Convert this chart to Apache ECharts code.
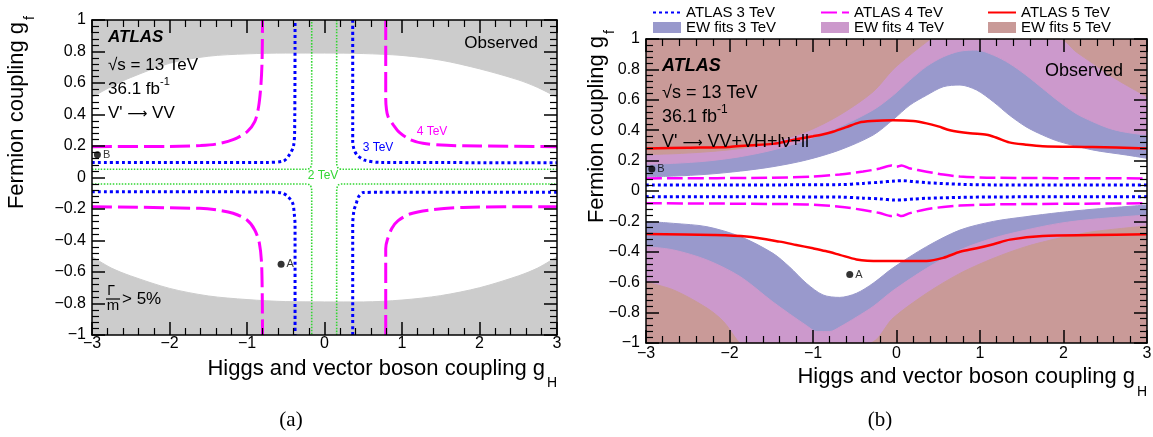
<!DOCTYPE html>
<html>
<head>
<meta charset="utf-8">
<title>HVT coupling limits</title>
<script src="https://cdn.jsdelivr.net/npm/echarts/dist/echarts.min.js"></script>
<style>
  html, body { margin: 0; padding: 0; background: #fff; }
  #chart { width: 1153px; height: 437px; }
</style>
</head>
<body>
<div id="chart"></div>
<script>
// ---------- data: points are [gH, gf] ----------

// (a) region where the resonance width exceeds 5% of its mass
const widthLimitUpper = [[-3, 0.51], [-2.75, 0.578], [-2.5, 0.635], [-2, 0.725], [-1.5, 0.77], [-1, 0.785], [-0.5, 0.79], [0, 0.79], [0.5, 0.787], [1, 0.775], [1.5, 0.745], [2, 0.69], [2.5, 0.62], [2.75, 0.572], [3, 0.51]];
const widthLimitLower = [[-3, -0.503], [-2.75, -0.575], [-2.5, -0.625], [-2, -0.704], [-1.5, -0.752], [-1, -0.775], [-0.5, -0.788], [0, -0.79], [0.5, -0.79], [1, -0.778], [1.5, -0.75], [2, -0.7], [2.5, -0.625], [2.75, -0.575], [3, -0.503]];

// (a) observed V' -> VV limit contours, one array per branch
const c2UL = [[-3, 0.052], [-0.24, 0.052], [-0.19, 0.058], [-0.17, 0.075], [-0.165, 0.1], [-0.165, 1]];
const c2UR = [[0.157, 1], [0.157, 0.1], [0.162, 0.075], [0.18, 0.058], [0.23, 0.052], [3, 0.052]];
const c2LL = [[-3, -0.041], [-0.24, -0.041], [-0.19, -0.047], [-0.17, -0.065], [-0.165, -0.09], [-0.165, -1]];
const c2LR = [[0.157, -1], [0.157, -0.09], [0.162, -0.065], [0.18, -0.047], [0.23, -0.041], [3, -0.041]];

const c3UL = [[-3, 0.096], [-0.75, 0.096], [-0.53, 0.105], [-0.45, 0.146], [-0.4, 0.2], [-0.385, 0.3], [-0.38, 1]];
const c3UR = [[0.364, 1], [0.364, 0.23], [0.38, 0.18], [0.42, 0.143], [0.52, 0.11], [0.72, 0.096], [3, 0.094]];
const c3LL = [[-3, -0.09], [-0.75, -0.092], [-0.55, -0.098], [-0.47, -0.122], [-0.41, -0.164], [-0.39, -0.23], [-0.38, -0.3], [-0.38, -1]];
const c3LR = [[0.364, -1], [0.364, -0.3], [0.38, -0.21], [0.41, -0.164], [0.44, -0.122], [0.5, -0.096], [0.7, -0.094], [3, -0.094]];

const c4UL = [[-3, 0.196], [-2, 0.197], [-1.6, 0.203], [-1.4, 0.212], [-1.18, 0.24], [-1.0, 0.29], [-0.9, 0.354], [-0.85, 0.45], [-0.82, 0.59], [-0.805, 0.75], [-0.8, 1]];
const c4UR = [[0.79, 1], [0.79, 0.5], [0.8, 0.43], [0.82, 0.386], [0.89, 0.333], [0.97, 0.285], [1.1, 0.242], [1.27, 0.217], [1.58, 0.204], [2, 0.2], [3, 0.196]];
const c4LL = [[-3, -0.185], [-1.61, -0.196], [-1.39, -0.206], [-1.18, -0.227], [-1.0, -0.27], [-0.9, -0.333], [-0.84, -0.418], [-0.81, -0.566], [-0.8, -1]];
const c4LR = [[0.79, -1], [0.79, -0.45], [0.81, -0.397], [0.87, -0.322], [0.95, -0.274], [1.1, -0.232], [1.36, -0.206], [1.79, -0.19], [3, -0.185]];

// (b) EW-fit bands: boundary of each excluded region (upper and lower)
const ew3Up = [[-3, 0.094], [-2.67, 0.098], [-2.27, 0.11], [-1.87, 0.131], [-1.48, 0.16], [-1.08, 0.204], [-0.68, 0.27], [-0.28, 0.368], [-0.04, 0.47], [0.16, 0.565], [0.36, 0.63], [0.56, 0.686], [0.76, 0.697], [0.96, 0.664], [1.16, 0.587], [1.35, 0.5], [1.55, 0.423], [1.75, 0.368], [1.95, 0.325], [2.35, 0.27], [2.75, 0.237], [3, 0.215]];
const ew3Down = [[-3, -0.2], [-2.67, -0.213], [-2.27, -0.235], [-1.87, -0.3], [-1.48, -0.41], [-1.28, -0.5], [-1.08, -0.607], [-0.88, -0.684], [-0.68, -0.7], [-0.48, -0.673], [-0.28, -0.607], [-0.04, -0.505], [0.36, -0.366], [0.76, -0.257], [1.16, -0.2], [1.55, -0.169], [1.95, -0.142], [2.35, -0.12], [3, -0.092]];
const ew4Up = [[-3, 0.175], [-2.67, 0.182], [-2.27, 0.197], [-1.87, 0.226], [-1.48, 0.27], [-1.08, 0.335], [-0.68, 0.423], [-0.28, 0.533], [-0.04, 0.63], [0.16, 0.73], [0.36, 0.82], [0.56, 0.883], [0.76, 0.92], [0.96, 0.927], [1.16, 0.894], [1.35, 0.84], [1.55, 0.763], [1.75, 0.675], [1.95, 0.587], [2.15, 0.51], [2.35, 0.456], [2.55, 0.412], [2.75, 0.386], [3, 0.368]];
const ew4Down = [[-3, -0.366], [-2.67, -0.388], [-2.27, -0.454], [-1.87, -0.564], [-1.48, -0.73], [-1.08, -0.885], [-0.95, -0.925], [-0.8, -0.925], [-0.68, -0.895], [-0.48, -0.83], [-0.28, -0.76], [-0.04, -0.655], [0.36, -0.509], [0.76, -0.388], [1.16, -0.31], [1.55, -0.257], [1.95, -0.213], [2.35, -0.186], [3, -0.158]];
const ew5Up = [[-3, 0.24], [-2.67, 0.245], [-2.27, 0.258], [-1.87, 0.28], [-1.48, 0.324], [-1.08, 0.39], [-0.68, 0.5], [-0.28, 0.653], [-0.04, 0.8], [0.16, 0.894], [0.36, 0.98], [0.42, 1], [1.95, 1], [2.15, 0.916], [2.35, 0.84], [2.55, 0.763], [2.75, 0.697], [3, 0.62]];
const ew5Down = [[-3, -0.6], [-2.67, -0.651], [-2.27, -0.77], [-2.07, -0.86], [-1.91, -0.98], [-1.87, -1], [-0.33, -1], [-0.04, -0.835], [0.36, -0.673], [0.76, -0.542], [1.16, -0.443], [1.55, -0.366], [1.95, -0.31], [2.35, -0.268], [3, -0.23]];

// (b) observed combined limits
const atlas3Up = [[-3, 0.039], [-0.68, 0.042], [-0.4, 0.05], [-0.2, 0.058], [-0.02, 0.066], [0.08, 0.068], [0.2, 0.062], [0.36, 0.055], [0.76, 0.044], [1.2, 0.04], [3, 0.039]];
const atlas3Down = [[-3, -0.037], [-0.68, -0.04], [-0.4, -0.047], [-0.2, -0.052], [-0.02, -0.059], [0.08, -0.058], [0.2, -0.053], [0.36, -0.048], [0.76, -0.042], [1.2, -0.039], [3, -0.037]];
const atlas4Up = [[-3, 0.083], [-1.5, 0.087], [-1.0, 0.095], [-0.68, 0.109], [-0.4, 0.128], [-0.2, 0.148], [-0.06, 0.168], [0, 0.16], [0.06, 0.168], [0.15, 0.15], [0.36, 0.127], [0.56, 0.108], [0.76, 0.095], [1.16, 0.087], [3, 0.083]];
const atlas4Down = [[-3, -0.081], [-1.08, -0.088], [-0.68, -0.103], [-0.4, -0.125], [-0.2, -0.145], [-0.06, -0.165], [0, -0.155], [0.06, -0.165], [0.15, -0.147], [0.36, -0.12], [0.56, -0.105], [0.76, -0.096], [1.16, -0.088], [3, -0.081]];
const atlas5Up = [[-3, 0.28], [-2.5, 0.285], [-2, 0.29], [-1.79, 0.3], [-1.48, 0.31], [-1.2, 0.34], [-1.0, 0.36], [-0.9, 0.37], [-0.76, 0.39], [-0.6, 0.42], [-0.45, 0.45], [-0.3, 0.46], [-0.04, 0.465], [0.2, 0.46], [0.36, 0.445], [0.5, 0.425], [0.64, 0.4], [0.88, 0.38], [1.08, 0.37], [1.2, 0.35], [1.35, 0.32], [1.55, 0.305], [1.75, 0.295], [2.35, 0.29], [3, 0.28]];
const atlas5Down = [[-3, -0.283], [-2.19, -0.29], [-1.8, -0.3], [-1.4, -0.333], [-1.2, -0.355], [-1.0, -0.377], [-0.85, -0.395], [-0.68, -0.42], [-0.48, -0.45], [-0.2, -0.46], [0.36, -0.46], [0.56, -0.44], [0.76, -0.4], [0.96, -0.377], [1.16, -0.35], [1.36, -0.32], [1.75, -0.296], [2.35, -0.29], [3, -0.285]];

// benchmark model points
const benchmarkA = [-0.56, -0.55];
const benchmarkB = [-2.93, 0.145];

// axis ranges
const gHRange = [-3, 3];
const gfRange = [-1, 1];

// ---------- styling ----------
const SANS = '"Liberation Sans", Arial, Helvetica, sans-serif';
const ARROW_FONT = '"DejaVu Sans", sans-serif';
const SERIF = '"Liberation Serif", "DejaVu Serif", serif';
const GRAY = '#cccccc';
const C_EW3 = '#9999cc';
const C_EW4 = '#cc99cc';
const C_EW5 = '#c99a98';
const BLUE = '#0000ff';
const MAGENTA = '#ff00ff';
const GREEN = '#33d633';
const RED = '#ff0000';

function tickFmt(v) {
  const r = Math.round(v * 10) / 10;
  return (r === 0 ? '0' : String(r)).replace('-', '\u2212');
}

function axis(gridIndex, position, labelled, isX, margin) {
  return {
    type: 'value', gridIndex: gridIndex, position: position,
    min: isX ? gHRange[0] : gfRange[0], max: isX ? gHRange[1] : gfRange[1],
    interval: isX ? 1 : 0.2,
    axisLine: { show: true, onZero: false, lineStyle: { color: '#000', width: 1.5 } },
    axisTick: { show: true, inside: true, length: 13, lineStyle: { color: '#000', width: 1.5 } },
    minorTick: { show: true, splitNumber: 5, length: 7, lineStyle: { color: '#000', width: 1.2 } },
    splitLine: { show: false }, minorSplitLine: { show: false },
    axisLabel: { show: labelled, formatter: tickFmt, color: '#000', fontFamily: SANS, fontSize: 16,
                 margin: margin || 6, showMinLabel: true, showMaxLabel: true },
    z: 10, silent: true
  };
}

function region(name, data, panel, color, origin, z) {
  return {
    type: 'line', name: name, data: data, xAxisIndex: panel * 2, yAxisIndex: panel * 2,
    symbol: 'none', smooth: 0.3, clip: true, color: color,
    lineStyle: { width: 1, color: color }, itemStyle: { color: color },
    areaStyle: { color: color, opacity: 1, origin: origin },
    z: z, silent: true, animation: false
  };
}

function curve(name, data, panel, color, width, dash, z) {
  return {
    type: 'line', name: name, data: data, xAxisIndex: panel * 2, yAxisIndex: panel * 2,
    symbol: 'none', smooth: 0.3, clip: true, color: color,
    lineStyle: { color: color, width: width, type: dash, cap: 'butt' }, itemStyle: { color: color },
    z: z || 5, silent: true, animation: false
  };
}

function points(panel) {
  return {
    type: 'scatter', xAxisIndex: panel * 2, yAxisIndex: panel * 2,
    data: [{ name: 'A', value: benchmarkA }, { name: 'B', value: benchmarkB }],
    symbolSize: 7, itemStyle: { color: '#000' },
    label: { show: true, position: 'right', formatter: '{b}', distance: 2, fontSize: 11, fontFamily: SANS, color: '#000' },
    z: 6, silent: true, animation: false
  };
}

const DASH4 = [20, 6];
const DOT3 = [3, 3];
const DOT2 = [1.5, 1.5];

const series = [
  // (a)
  region('Γ/m > 5% upper', widthLimitUpper, 0, GRAY, 'end', 1),
  region('Γ/m > 5% lower', widthLimitLower, 0, GRAY, 'start', 1),
  curve('2 TeV', c2UL, 0, GREEN, 1.6, DOT2), curve('2 TeV', c2UR, 0, GREEN, 1.6, DOT2),
  curve('2 TeV', c2LL, 0, GREEN, 1.6, DOT2), curve('2 TeV', c2LR, 0, GREEN, 1.6, DOT2),
  curve('3 TeV', c3UL, 0, BLUE, 3, DOT3), curve('3 TeV', c3UR, 0, BLUE, 3, DOT3),
  curve('3 TeV', c3LL, 0, BLUE, 3, DOT3), curve('3 TeV', c3LR, 0, BLUE, 3, DOT3),
  curve('4 TeV', c4UL, 0, MAGENTA, 3, DASH4), curve('4 TeV', c4UR, 0, MAGENTA, 3, DASH4),
  curve('4 TeV', c4LL, 0, MAGENTA, 3, DASH4), curve('4 TeV', c4LR, 0, MAGENTA, 3, DASH4),
  points(0),
  // (b)
  region('EW fits 3 TeV', ew3Up, 1, C_EW3, 'end', 1),
  region('EW fits 3 TeV', ew3Down, 1, C_EW3, 'start', 1),
  region('EW fits 4 TeV', ew4Up, 1, C_EW4, 'end', 2),
  region('EW fits 4 TeV', ew4Down, 1, C_EW4, 'start', 2),
  region('EW fits 5 TeV', ew5Up, 1, C_EW5, 'end', 3),
  region('EW fits 5 TeV', ew5Down, 1, C_EW5, 'start', 3),
  curve('ATLAS 3 TeV', atlas3Up, 1, BLUE, 3, DOT3), curve('ATLAS 3 TeV', atlas3Down, 1, BLUE, 3, DOT3),
  curve('ATLAS 4 TeV', atlas4Up, 1, MAGENTA, 2.5, [16, 5]), curve('ATLAS 4 TeV', atlas4Down, 1, MAGENTA, 2.5, [16, 5]),
  curve('ATLAS 5 TeV', atlas5Up, 1, RED, 2.5, 'solid'), curve('ATLAS 5 TeV', atlas5Down, 1, RED, 2.5, 'solid'),
  points(1)
];

function legendColumn(left, lineName, bandName, bandColor) {
  return {
    left: left, top: 5, orient: 'vertical', padding: 0, itemGap: 0,
    itemWidth: 28, itemHeight: 11, selectedMode: false,
    textStyle: { fontFamily: SANS, fontSize: 15, lineHeight: 15, color: '#000' },
    data: [
      // line entries: keep only the stroke, no marker
      { name: lineName, itemStyle: { opacity: 0 } },
      { name: bandName, icon: 'rect', itemStyle: { color: bandColor } }
    ]
  };
}

// ---------- text helpers ----------
const measureCtx = document.createElement('canvas').getContext('2d');
function textWidth(s, font) { measureCtx.font = font; return measureCtx.measureText(s).width; }

function label(x, y, text, font, align, color, rotation) {
  return {
    type: 'text', x: x, y: y, rotation: rotation || 0, z: 100, silent: true,
    style: { text: text, font: font, fill: color || '#000',
             align: align || 'left', verticalAlign: 'middle',
             textAlign: align || 'left', textVerticalAlign: 'middle' }
  };
}

// "V' → <rest>" with a thin arrow about 1.2 em long
function decayLine(x, y, rest, size) {
  const f = size + 'px ' + SANS;
  const fa = Math.round(size * 0.8) + 'px ' + ARROW_FONT;
  const w1 = textWidth('V\' ', f);
  const wa = textWidth('\u27F6', fa);
  return [
    label(x, y, 'V\' ', f),
    label(x + w1, y + 1, '\u27F6', fa),
    label(x + w1 + wa, y, ' ' + rest, f)
  ];
}

const F17 = '17px ' + SANS;
const F18 = '18px ' + SANS;
const FTITLE = '22px ' + SANS;
const FSUB = '14px ' + SANS;

const graphics = [];

// (a) annotations
graphics.push(label(108, 37, 'ATLAS', 'italic bold 17px ' + SANS));
graphics.push(label(108, 65, '\u221As = 13 TeV', F17));
graphics.push(label(108, 89, '36.1 fb', F17));
graphics.push(label(108 + textWidth('36.1 fb', F17), 82, '-1', '11px ' + SANS));
graphics.push.apply(graphics, decayLine(108, 113, 'VV', 17));
graphics.push(label(538, 43, 'Observed', F17, 'right'));
graphics.push(label(111, 291, '\u0393', '14px ' + SANS, 'center'));
graphics.push({ type: 'line', z: 100, silent: true, shape: { x1: 106, y1: 299, x2: 120, y2: 299 }, style: { stroke: '#000', lineWidth: 1.2 } });
graphics.push(label(113, 306, 'm', '15px ' + SANS, 'center'));
graphics.push(label(122, 299, '> 5%', F17));
graphics.push(label(432, 132, '4 TeV', '12px ' + SANS, 'center', MAGENTA));
graphics.push(label(378, 148, '3 TeV', '12px ' + SANS, 'center', BLUE));
graphics.push(label(323, 176, '2 TeV', '12px ' + SANS, 'center', GREEN));
// (a) axis titles
graphics.push(label(17, 22, 'Fermion coupling g', FTITLE, 'right', '#000', Math.PI / 2));
graphics.push(label(30, 18, 'f', FSUB, 'center', '#000', Math.PI / 2));
graphics.push(label(545, 369, 'Higgs and vector boson coupling g', FTITLE, 'right'));
graphics.push(label(547, 383, 'H', FSUB, 'left'));
graphics.push(label(291, 420, '(a)', '21px ' + SERIF, 'center'));

// (b) annotations
graphics.push(label(662, 66, 'ATLAS', 'italic bold 18px ' + SANS));
graphics.push(label(662, 93, '\u221As = 13 TeV', F18));
graphics.push(label(662, 117, '36.1 fb', F18));
graphics.push(label(662 + textWidth('36.1 fb', F18), 110, '-1', '12px ' + SANS));
graphics.push.apply(graphics, decayLine(662, 142, 'VV+VH+l\u03BD+ll', 18));
graphics.push(label(1123, 71, 'Observed', F18, 'right'));
// (b) axis titles
graphics.push(label(597, 36, 'Fermion coupling g', FTITLE, 'right', '#000', Math.PI / 2));
graphics.push(label(610, 32, 'f', FSUB, 'center', '#000', Math.PI / 2));
graphics.push(label(1135, 377, 'Higgs and vector boson coupling g', FTITLE, 'right'));
graphics.push(label(1137, 392, 'H', FSUB, 'left'));
graphics.push(label(880, 420, '(b)', '21px ' + SERIF, 'center'));

const option = {
  animation: false,
  backgroundColor: '#fff',
  grid: [
    { left: 92, top: 20, width: 465, height: 315, containLabel: false, outerBoundsMode: 'none' },
    { left: 646, top: 39, width: 501, height: 304, containLabel: false, outerBoundsMode: 'none' }
  ],
  xAxis: [
    axis(0, 'bottom', true, true, 1), axis(0, 'top', false, true),
    axis(1, 'bottom', true, true, 3), axis(1, 'top', false, true)
  ],
  yAxis: [
    axis(0, 'left', true, false, 6), axis(0, 'right', false, false),
    axis(1, 'left', true, false, 6), axis(1, 'right', false, false)
  ],
  legend: [
    legendColumn(652, 'ATLAS 3 TeV', 'EW fits 3 TeV', C_EW3),
    legendColumn(820, 'ATLAS 4 TeV', 'EW fits 4 TeV', C_EW4),
    legendColumn(987, 'ATLAS 5 TeV', 'EW fits 5 TeV', C_EW5)
  ],
  series: series,
  graphic: { elements: graphics }
};

const chart = echarts.init(document.getElementById('chart'), null, { renderer: 'canvas' });
chart.setOption(option);
</script>
</body>
</html>
